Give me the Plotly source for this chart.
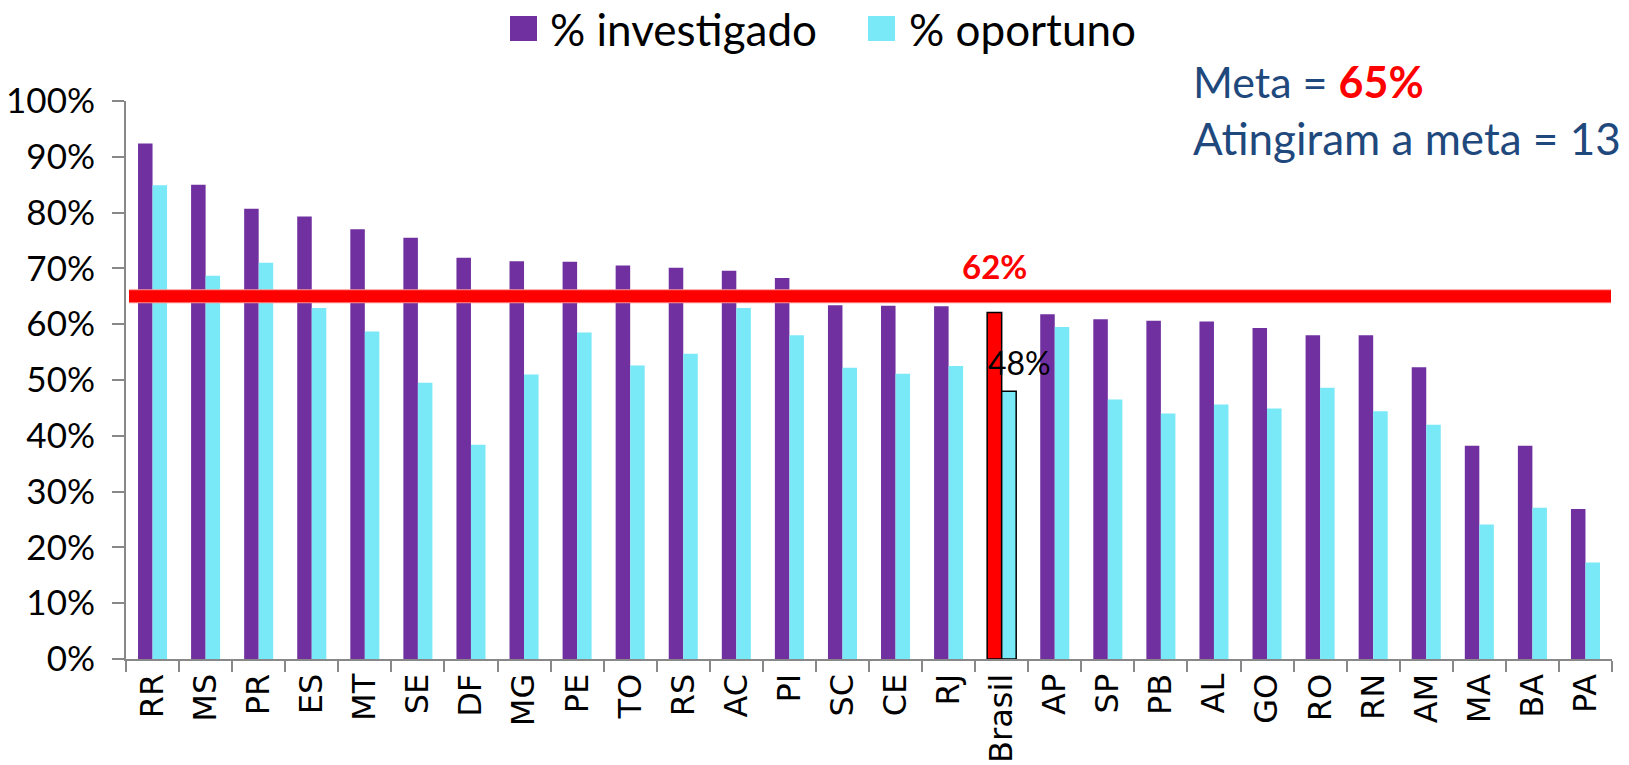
import plotly.graph_objects as go

# ---- data ----
categories = ["RR", "MS", "PR", "ES", "MT", "SE", "DF", "MG", "PE", "TO", "RS", "AC", "PI", "SC",
              "CE", "RJ", "Brasil", "AP", "SP", "PB", "AL", "GO", "RO", "RN", "AM", "MA", "BA", "PA"]
investigado = [92.4, 85.0, 80.7, 79.3, 77.0, 75.5, 71.9, 71.3, 71.2, 70.5, 70.1, 69.6, 68.3, 63.4,
               63.3, 63.2, 62.1, 61.8, 60.9, 60.6, 60.5, 59.3, 58.0, 58.0, 52.3, 38.2, 38.2, 26.9]
oportuno = [84.9, 68.7, 71.0, 62.9, 58.7, 49.5, 38.4, 51.0, 58.5, 52.6, 54.7, 62.9, 58.0, 52.2,
            51.1, 52.5, 48.0, 59.5, 46.5, 44.0, 45.6, 44.9, 48.6, 44.4, 42.0, 24.1, 27.1, 17.3]
series_names = ["% investigado", "% oportuno"]
meta = 65
atingiram = 13
highlight = "Brasil"

# ---- styles ----
PURPLE = "#7030A0"
CYAN = "#79E8F7"
RED = "#FF0000"
NAVY = "#1F497D"
CAL = "Lato"
VER = "DejaVu Sans"

W_PX, H_PX = 1629, 765
L, R, T, B = 126, 1612, 101, 659


def px(x):
    return (x - L) / (R - L)


def py(y):
    return (B - y) / (B - T)


hi = [c == highlight for c in categories]
inv_colors = [RED if h else PURPLE for h in hi]
op_colors = [CYAN for h in hi]
line_w = [1.5 if h else 0 for h in hi]

fig = go.Figure()
fig.add_trace(go.Bar(x=categories, y=investigado, name=series_names[0],
                     marker=dict(color=inv_colors, line=dict(color="black", width=line_w))))
fig.add_trace(go.Bar(x=categories, y=oportuno, name=series_names[1],
                     marker=dict(color=op_colors, line=dict(color="black", width=line_w))))

shapes = [
    dict(type="line", xref="paper", yref="y", x0=px(129), x1=px(1611), y0=meta, y1=meta,
         line=dict(color="#FF9090", width=14), layer="above"),
    dict(type="line", xref="paper", yref="y", x0=px(129), x1=px(1611), y0=meta, y1=meta,
         line=dict(color=RED, width=12), layer="above"),
    # manual legend squares
    dict(type="rect", xref="paper", yref="paper", x0=px(510), x1=px(537), y0=py(41), y1=py(16),
         fillcolor=PURPLE, line=dict(width=0)),
    dict(type="rect", xref="paper", yref="paper", x0=px(868), x1=px(895), y0=py(41), y1=py(16),
         fillcolor=CYAN, line=dict(width=0)),
]

bi = categories.index(highlight)
annotations = [
    dict(xref="paper", yref="paper", x=px(548), y=py(29), xanchor="left", yanchor="middle",
         text=series_names[0], showarrow=False, font=dict(family=CAL, size=44, color="black")),
    dict(xref="paper", yref="paper", x=px(907), y=py(29), xanchor="left", yanchor="middle",
         text=series_names[1], showarrow=False, font=dict(family=CAL, size=44, color="black")),
    dict(xref="paper", yref="paper", x=px(1191), y=py(82), xanchor="left", yanchor="middle",
         text=f"Meta = <span style='color:{RED}'><b>{meta}%</b></span>", showarrow=False,
         font=dict(family=CAL, size=43, color=NAVY)),
    dict(xref="paper", yref="paper", x=px(1191), y=py(138), xanchor="left", yanchor="middle",
         text=f"Atingiram a meta = {atingiram}", showarrow=False,
         font=dict(family=CAL, size=44, color=NAVY)),
    dict(xref="x", yref="y", x=highlight, y=investigado[bi], xshift=-7, yshift=46,
         xanchor="center", yanchor="middle", text=f"<b>{investigado[bi]:.0f}%</b>", showarrow=False,
         font=dict(family=CAL, size=33, color=RED)),
    dict(xref="x", yref="y", x=highlight, y=oportuno[bi], xshift=18, yshift=29,
         xanchor="center", yanchor="middle", text=f"{oportuno[bi]:.0f}%", showarrow=False,
         font=dict(family=CAL, size=32, color="black")),
]

fig.update_layout(
    width=W_PX, height=H_PX,
    margin=dict(l=L, r=W_PX - R, t=T, b=H_PX - B, pad=0, autoexpand=False),
    paper_bgcolor="white", plot_bgcolor="white",
    barmode="group", bargap=0.453, bargroupgap=0,
    showlegend=False,
    shapes=shapes, annotations=annotations,
)
fig.update_yaxes(range=[0, 100], dtick=10, ticksuffix="%", showgrid=False, zeroline=False,
                 automargin=False,
                 showline=True, linecolor="#888888", linewidth=2,
                 ticks="outside", ticklen=12, tickcolor="#888888", tickwidth=2,
                 ticklabelstandoff=10,
                 tickfont=dict(family=CAL, size=35, color="black"))
fig.update_xaxes(showgrid=False, showline=True, linecolor="#888888", linewidth=2,
                 automargin=False,
                 ticks="outside", ticklen=11, tickcolor="#888888", tickwidth=2,
                 tickson="boundaries", tickangle=-90,
                 tickfont=dict(family=VER, size=32, color="black"))

fig.write_html("out.html", config={"displayModeBar": False},
               post_script="document.body.style.margin='0';document.body.style.overflow='hidden';")
